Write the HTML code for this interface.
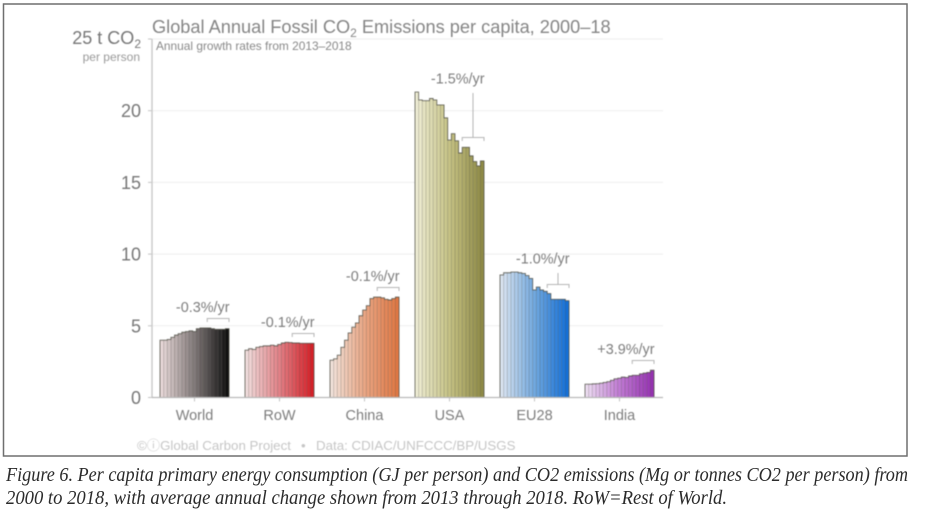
<!DOCTYPE html>
<html lang="en">
<head>
<meta charset="utf-8">
<title>Global Annual Fossil CO2 Emissions per capita</title>
<style>
html,body{margin:0;padding:0;background:#fff;width:938px;height:521px;overflow:hidden}
svg{display:block;font-family:"Liberation Sans",sans-serif}
#plot{filter:blur(.5px)}
#caption{filter:blur(.25px)}
#caption text{font-family:"Liberation Serif",serif;font-style:italic;font-size:20px;fill:#2b2b2b}
</style>
</head>
<body>
<svg id="chart" width="938" height="521" viewBox="0 0 938 521">
  <rect x="3.5" y="4" width="903.5" height="452" fill="#fff" stroke="#6f6f6f" stroke-width="1.5"/>
  <g id="plot">
    <g id="grid"></g>
    <g id="bars"></g>
    <g id="axes"></g>
    <text x="152" y="33" font-size="18.2" fill="#858585">Global Annual Fossil CO<tspan font-size="12" dy="4">2</tspan><tspan dy="-4"> Emissions per capita, 2000–18</tspan></text>
    <text x="156" y="50" font-size="11.9" fill="#888">Annual growth rates from 2013–2018</text>
    <text x="141" y="44" font-size="18" fill="#777" text-anchor="end">25 t CO<tspan font-size="12" dy="4">2</tspan></text>
    <text x="140" y="61" font-size="12" fill="#999" text-anchor="end">per person</text>
    <text x="137" y="450" font-size="13.3" fill="#c6c6c6">©ⓘGlobal Carbon Project</text>
    <text x="301" y="450" font-size="13.3" fill="#c6c6c6">•</text>
    <text x="316" y="450" font-size="13.3" fill="#c6c6c6">Data: CDIAC/UNFCCC/BP/USGS</text>
  </g>
  <g id="caption">
    <text x="6" y="481" textLength="902" lengthAdjust="spacingAndGlyphs">Figure 6. Per capita primary energy consumption (GJ per person) and CO2 emissions (Mg or tonnes CO2 per person) from</text>
    <text x="6" y="504" textLength="721" lengthAdjust="spacingAndGlyphs">2000 to 2018, with average annual change shown from 2013 through 2018. RoW=Rest of World.</text>
  </g>
</svg>
<script>
const categories = ['World', 'RoW', 'China', 'USA', 'EU28', 'India'];
const yTicks = [0, 5, 10, 15, 20];
const growthLabels = ['-0.3%/yr', '-0.1%/yr', '-0.1%/yr', '-1.5%/yr', '-1.0%/yr', '+3.9%/yr'];
const world = [4.0, 4.0, 4.05, 4.2, 4.35, 4.45, 4.55, 4.6, 4.65, 4.6, 4.8, 4.85, 4.85, 4.85, 4.8, 4.75, 4.75, 4.75, 4.8];
const row = [3.3, 3.4, 3.35, 3.5, 3.55, 3.6, 3.6, 3.65, 3.6, 3.7, 3.8, 3.85, 3.83, 3.8, 3.8, 3.78, 3.78, 3.78, 3.78];
const china = [2.6, 2.7, 2.95, 3.5, 4.0, 4.5, 4.9, 5.2, 5.7, 6.1, 6.4, 6.9, 7.0, 7.0, 6.95, 6.85, 6.8, 6.9, 7.0];
const usa = [21.3, 20.75, 20.7, 20.7, 20.85, 20.75, 20.4, 20.4, 19.5, 17.95, 18.4, 17.9, 17.05, 17.45, 17.45, 16.85, 16.45, 16.15, 16.5];
const eu28 = [8.55, 8.7, 8.7, 8.75, 8.75, 8.7, 8.65, 8.5, 8.3, 7.5, 7.7, 7.5, 7.4, 7.25, 6.85, 6.85, 6.85, 6.85, 6.75];
const india = [0.93, 0.93, 0.95, 0.96, 1.0, 1.05, 1.1, 1.2, 1.3, 1.35, 1.42, 1.4, 1.5, 1.55, 1.55, 1.65, 1.7, 1.75, 1.9];
const seriesValues = [world, row, china, usa, eu28, india];

const NS = 'http://www.w3.org/2000/svg';
const yBase = 397.5, yScale = 14.34;
const plotLeft = 152, plotRight = 663, groupLeft = 160, groupStep = 85, groupWidth = 69;
const yPos = v => yBase - v * yScale;
const groupX = i => groupLeft + i * groupStep;
const ramps = [
  [[232, 216, 216], [130, 122, 122], [16, 16, 16]],
  [[240, 220, 220], [226, 128, 134], [214, 32, 40]],
  [[242, 226, 218], [234, 166, 132], [224, 120, 68]],
  [[238, 237, 212], [198, 194, 132], [143, 139, 70]],
  [[218, 228, 241], [112, 168, 224], [20, 112, 216]],
  [[236, 220, 241], [192, 122, 212], [150, 50, 178]]
];
function rampColor(stops, t) {
  const s = t < 0.5 ? 0 : 1, f = t < 0.5 ? t * 2 : (t - 0.5) * 2;
  return 'rgb(' + stops[s].map((c, k) => Math.round(c + (stops[s + 1][k] - c) * f)).join(',') + ')';
}
function make(tag, attrs, parent) {
  const el = document.createElementNS(NS, tag);
  for (const k in attrs) el.setAttribute(k, attrs[k]);
  parent.appendChild(el);
  return el;
}
const grid = document.getElementById('grid');
const axes = document.getElementById('axes');
const barsRoot = document.getElementById('bars');

[...yTicks, 25].forEach(t => {
  if (t > 0) {
    const gl = make('line', {x1: plotLeft, x2: plotRight, y1: yPos(t), y2: yPos(t), stroke: '#eeeeee', 'stroke-width': 1}, grid);
    
    
  }
  const tk = make('line', {x1: plotLeft - 4, x2: plotLeft, y1: yPos(t), y2: yPos(t), stroke: '#c4c4c4', 'stroke-width': 1}, axes);
  
  
});
yTicks.forEach(t => {
  const lb = make('text', {x: 141, y: yPos(t) + 6.5, 'font-size': 18, fill: '#777', 'text-anchor': 'end'}, axes);
  lb.textContent = t;
  
  
});
const yAxisLine = make('line', {x1: plotLeft, x2: plotLeft, y1: yPos(25), y2: yBase, stroke: '#c8c8c8', 'stroke-width': 1.4}, axes);



seriesValues.forEach((vals, g) => {
  const x0 = groupX(g), n = vals.length, bw = groupWidth / n;
  const group = make('g', {}, barsRoot);
  
  
  vals.forEach((v, i) => {
    const col = rampColor(ramps[g], i / (n - 1));
    const bar = make('rect', {x: x0 + i * bw, y: yPos(v), width: bw + 0.1, height: yBase - yPos(v), fill: col}, group);
    
    
    if (i > 0) {
      const sep = make('line', {x1: x0 + i * bw, x2: x0 + i * bw, y1: yPos(Math.min(v, vals[i - 1])), y2: yBase, stroke: '#4a4a40', 'stroke-opacity': 0.3, 'stroke-width': 0.8}, group);
      
      
    }
  });
  // dark outline along the bar tops
  let d = 'M' + x0 + ' ' + yBase;
  vals.forEach((v, i) => { d += 'L' + (x0 + i * bw) + ' ' + yPos(v) + 'L' + (x0 + (i + 1) * bw) + ' ' + yPos(v); });
  d += 'L' + (x0 + groupWidth) + ' ' + yBase;
  const outline = make('path', {d: d, fill: 'none', stroke: '#4a4a40', 'stroke-opacity': 0.8, 'stroke-width': 0.9}, group);
  
  

  // bracket over the 2013-2018 bars, with growth label
  const recent = vals.slice(-6);
  const bracketY = Math.round(yPos(Math.max(...recent))) - 9.5;
  const bx1 = x0 + (n - 6) * bw, bx2 = x0 + groupWidth;
  const br = make('path', {d: 'M' + bx1 + ' ' + (bracketY + 3.5) + 'V' + bracketY + 'H' + bx2 + 'V' + (bracketY + 3.5), fill: 'none', stroke: '#b5b5b5', 'stroke-width': 1}, group);
  
  
  const labelY = Math.min(bracketY - 7, yPos(Math.max(...vals)) - 9);
  if (labelY < bracketY - 8) {
    const lead = make('line', {x1: bx2 - 11, x2: bx2 - 11, y1: labelY + 10, y2: bracketY, stroke: '#b5b5b5', 'stroke-width': 1}, group);
    
    
  }
  const gl = make('text', {x: x0 + groupWidth + 0.5, y: labelY + 0.5, 'font-size': 14.4, fill: '#7d7d7d', 'text-anchor': 'end'}, group);
  gl.textContent = growthLabels[g];
  
  

  const cx = x0 + groupWidth / 2;
  const xt = make('line', {x1: cx, x2: cx, y1: yBase, y2: yBase + 4, stroke: '#c4c4c4', 'stroke-width': 1}, axes);
  
  
  const xl = make('text', {x: cx, y: 420, 'font-size': 14.5, fill: '#7d7d7d', 'text-anchor': 'middle'}, axes);
  xl.textContent = categories[g];
  
  
});
const xAxisLine = make('line', {x1: plotLeft, x2: plotRight, y1: yBase, y2: yBase, stroke: '#b8b8b8', 'stroke-width': 1.2}, axes);


</script>
</body>
</html>
